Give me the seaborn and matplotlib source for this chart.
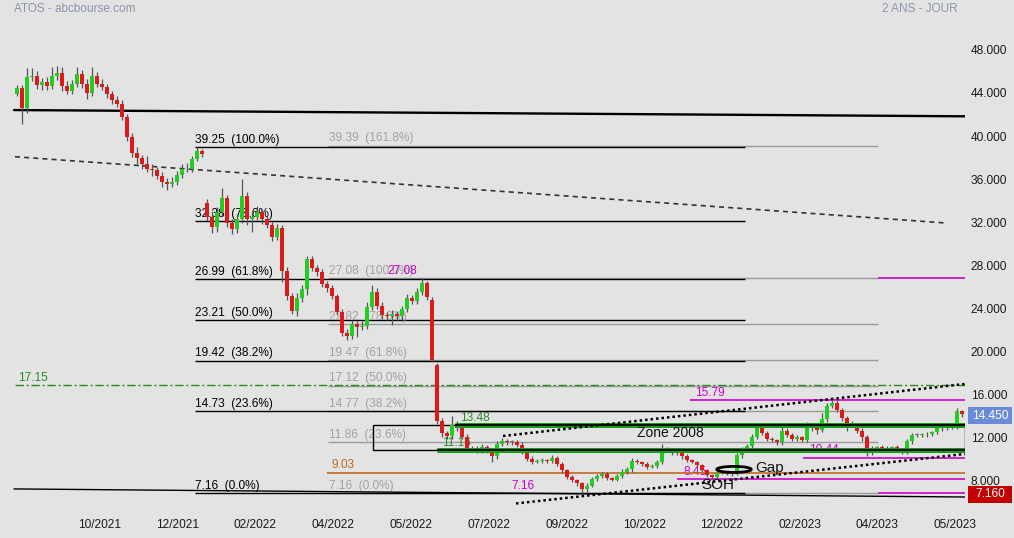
import matplotlib
matplotlib.use("Agg")
import matplotlib.pyplot as plt
import matplotlib.transforms as mtransforms
from matplotlib.patches import Ellipse, Rectangle
import numpy as np
import seaborn as sns

# daily candles sampled from the chart (ATOS, 2 years)
closes = [
    44.75, 42.85, 45.75, 45.85, 45.05, 45.25, 44.95, 45.85, 46.15, 44.95,
    44.45, 45.15, 46.05, 45.15, 44.25, 45.85, 45.15, 44.85, 44.15, 43.65,
    43.25, 42.05, 40.15, 38.75, 38.25, 37.65, 37.25, 37.15, 36.55, 36.05,
    35.85, 36.05, 36.65, 37.25, 37.2, 38.15, 38.9, 38.6, 32.8, 31.85,
    33.25, 34.55, 32.25, 31.65, 32.55, 34.75, 32.55, 32.75, 33.25, 32.55,
    32.05, 30.95, 31.75, 27.75, 25.45, 24.05, 25.25, 26.05, 28.85, 28.05,
    27.65, 26.55, 26.15, 25.45, 23.95, 22.05, 21.75, 22.85, 22.55, 22.65,
    24.45, 25.85, 24.55, 23.65, 23.55, 23.75, 23.55, 24.25, 25.25, 24.95,
    25.85, 26.6, 25.3, 19.5, 13.8, 12.75, 12.45, 13.45, 13.15, 12.35,
    11.25, 11.35, 11.05, 11.45, 11.15, 10.55, 11.75, 11.95, 11.85, 11.85,
    11.65, 10.95, 10.35, 10.05, 10.15, 10.25, 10.15, 10.45, 9.85, 9.25,
    8.65, 8.35, 8.05, 7.5, 7.85, 8.45, 8.75, 8.95, 8.55, 8.35,
    8.75, 9.15, 9.35, 10.15, 10.05, 9.85, 9.55, 9.65, 10.05, 11.15,
    11.15, 10.85, 10.85, 10.55, 10.25, 10.05, 9.75, 9.25, 8.85, 8.65,
    9.0, 9.0, 8.95, 8.95, 10.65, 11.25, 11.55, 12.35, 13.15, 12.75,
    12.15, 12.05, 11.85, 12.95, 12.55, 12.15, 12.35, 12.05, 13.45, 13.15,
    13.05, 14.05, 15.25, 15.55, 14.85, 14.15, 13.65, 13.55, 12.95, 12.35,
    10.85, 11.35, 11.45, 11.15, 11.35, 11.45, 11.25, 10.95, 11.95, 12.55,
    12.55, 12.6, 12.65, 12.85, 13.15, 13.2, 13.35, 13.3, 14.75, 14.45,
]
first_open = 44.2
gap_opens = {38: 34.1, 83: 25.1, 84: 19.0, 144: 9.05}

upper_tail = [
    0.3, 0.3, 0.8, 0.7, 0.5, 0.4, 0.5, 0.8, 0.6, 0.5,
    0.4, 0.3, 0.6, 0.4, 0.4, 0.8, 0.4, 0.4, 0.3, 0.3,
    0.3, 0.4, 0.3, 0.4, 0.5, 0.3, 0.8, 0.4, 0.3, 0.4,
    0.3, 0.4, 0.4, 0.4, 0.5, 0.3, 0.35, 0.2, 0.3, 0.5,
    0.4, 0.9, 0.3, 0.3, 0.5, 1.55, 0.3, 0.4, 0.5, 0.3,
    0.3, 0.3, 0.4, 0.3, 0.4, 0.3, 0.5, 0.4, 0.3, 0.3,
    0.3, 0.3, 0.3, 0.3, 0.2, 0.3, 0.3, 0.4, 0.3, 0.5,
    0.4, 0.6, 0.3, 0.3, 0.3, 0.4, 0.3, 0.3, 0.4, 0.3,
    0.3, 0.48, 0.2, 0.2, 0.2, 0.3, 0.2, 0.9, 0.4, 0.2,
    0.3, 0.2, 0.2, 0.3, 0.2, 0.2, 0.2, 0.3, 0.2, 0.2,
    0.2, 0.2, 0.1, 0.2, 0.2, 0.2, 0.1, 0.2, 0.1, 0.2,
    0.1, 0.2, 0.1, 0.1, 0.2, 0.2, 0.2, 0.2, 0.2, 0.1,
    0.2, 0.2, 0.2, 0.3, 0.2, 0.1, 0.2, 0.2, 0.2, 0.6,
    0.3, 0.2, 0.2, 0.1, 0.2, 0.1, 0.1, 0.1, 0.1, 0.1,
    0.1, 0.2, 0.1, 0.1, 0.2, 0.2, 0.2, 0.3, 0.3, 0.2,
    0.2, 0.2, 0.1, 0.3, 0.2, 0.2, 0.2, 0.1, 0.3, 0.2,
    0.2, 0.5, 0.3, 0.24, 0.2, 0.2, 0.2, 0.2, 0.1, 0.2,
    0.2, 0.2, 0.1, 0.2, 0.2, 0.1, 0.2, 0.1, 0.2, 0.2,
    0.2, 0.1, 0.2, 0.1, 0.2, 0.2, 0.15, 0.2, 0.3, 0.1,
]
lower_tail = [
    0.2, 1.45, 0.4, 0.4, 0.4, 0.5, 0.4, 0.3, 0.4, 0.5,
    0.3, 0.3, 0.3, 0.4, 0.5, 0.3, 0.3, 0.3, 0.3, 0.4,
    0.3, 0.3, 0.3, 0.4, 0.6, 0.4, 0.3, 0.6, 0.3, 0.5,
    0.6, 0.3, 0.3, 0.3, 0.3, 0.3, 0.2, 0.3, 0.4, 0.6,
    0.5, 0.4, 0.4, 0.5, 0.4, 0.3, 0.5, 1.2, 0.3, 0.4,
    0.3, 0.4, 0.3, 1.0, 0.4, 0.3, 0.5, 0.4, 0.5, 0.3,
    0.4, 0.3, 0.3, 0.3, 0.3, 0.3, 0.4, 0.3, 0.9, 0.3,
    0.3, 0.3, 0.3, 0.3, 0.3, 0.8, 0.3, 0.3, 0.3, 0.3,
    0.3, 0.3, 0.2, 0.2, 0.2, 0.4, 0.3, 0.3, 0.2, 0.2,
    0.2, 0.2, 0.2, 0.2, 0.3, 0.5, 0.2, 0.2, 0.2, 0.2,
    0.2, 0.2, 0.2, 0.2, 0.1, 0.2, 0.2, 0.2, 0.2, 0.2,
    0.2, 0.2, 0.2, 0.34, 0.2, 0.1, 0.2, 0.2, 0.2, 0.1,
    0.1, 0.2, 0.2, 0.2, 0.2, 0.2, 0.2, 0.1, 0.2, 0.2,
    0.2, 0.2, 0.2, 0.2, 0.2, 0.1, 0.2, 0.1, 0.2, 0.2,
    0.1, 0.1, 0.1, 0.2, 0.2, 0.2, 0.2, 0.2, 0.2, 0.2,
    0.2, 0.2, 0.2, 0.2, 0.2, 0.2, 0.2, 0.2, 0.2, 0.2,
    0.4, 0.2, 0.3, 0.2, 0.2, 0.3, 0.7, 0.2, 0.2, 0.4,
    0.3, 0.2, 0.2, 0.2, 0.2, 0.2, 0.2, 0.2, 0.2, 0.2,
    0.2, 0.2, 0.2, 0.2, 0.2, 0.2, 0.2, 0.2, 0.2, 0.2,
]

date_labels = ["10/2021", "12/2021", "02/2022", "04/2022", "05/2022", "07/2022",
               "09/2022", "10/2022", "12/2022", "02/2023", "04/2023", "05/2023"]
date_tick_first, date_tick_step = 16.6, 15.55
price_ticks = [8, 12, 16, 20, 24, 28, 32, 36, 40, 44, 48]

fib_a_levels = [39.25, 32.38, 26.99, 23.21, 19.42, 14.73, 7.16]
fib_a_pct = ["100.0%", "78.6%", "61.8%", "50.0%", "38.2%", "23.6%", "0.0%"]
fib_b_levels = [39.39, 27.08, 22.82, 19.47, 17.12, 14.77, 11.86, 7.16]
fib_b_pct = ["161.8%", "100.0%", "78.6%", "61.8%", "50.0%", "38.2%", "23.6%", "0.0%"]

zone_low, zone_high = 11.16, 13.48
green_level = 17.15
orange_level = 9.03
magenta_levels = [27.08, 15.79, 10.44, 8.45, 7.16]
last_price = 14.45
low_price = 7.16

BG = "#e3e3e3"
GREEN = "#22cc22"
RED = "#dd1a1a"
MAGENTA = "#cc00cc"
GRAY_TXT = "#a2a2a2"

sns.set_theme(style="white")
plt.rcParams["font.family"] = ["Liberation Sans", "DejaVu Sans"]

fig = plt.figure(figsize=(10.14, 5.38), dpi=100, facecolor=BG)
ax = fig.add_axes([0, 30 / 538, 965 / 1014, 508 / 538])
ax.set_facecolor(BG)
for s in ax.spines.values():
    s.set_visible(False)
ax.grid(False)
XL, XR = -3.4, 189.6
ax.set_xlim(XL, XR)
ax.set_ylim(5.77, 52.9)

# candles
closes_a = np.array(closes)
opens_a = np.r_[first_open, closes_a[:-1]]
for k, v in gap_opens.items():
    opens_a[k] = v
highs = np.maximum(opens_a, closes_a) + np.array(upper_tail)
lows = np.minimum(opens_a, closes_a) - np.array(lower_tail)
idx = np.arange(len(closes_a))
diff = closes_a - opens_a
doji = np.abs(diff) < 0.03
colors = np.where(doji, "#777777", np.where(diff > 0, GREEN, RED))
ax.vlines(idx, lows, highs, color="#555555", lw=0.9, zorder=3)
ax.bar(idx, np.where(doji, 0.1, diff), bottom=opens_a,
       width=0.8, color=colors, zorder=3.2, linewidth=0)


def label(x, y, s, color, size=8.6):
    ax.annotate(s, (x, y), xytext=(0, 1), textcoords="offset points",
                ha="left", va="bottom", color=color, fontsize=size, zorder=2)


# fibonacci retracement (black) and extension (gray)
for lv, p in zip(fib_a_levels, fib_a_pct):
    ax.hlines(lv, 35.6, 145.6, color="black", lw=1.0, zorder=2)
    label(35.6, lv, f"{lv:.2f}  ({p})", "black")
for lv, p in zip(fib_b_levels, fib_b_pct):
    ax.hlines(lv, 62.2, 172.2, color="#9a9a9a", lw=1.0, zorder=1.8)
    label(62.4, lv, f"{lv:.2f}  ({p})", GRAY_TXT)

# long resistance / support lines
sns.lineplot(x=[-0.6, XR], y=[42.69, 42.11], ax=ax, color="black", lw=1.7, zorder=2.5)
sns.lineplot(x=[-0.6, XR], y=[7.54, 6.79], ax=ax, color="black", lw=1.0, zorder=2.5)
sns.lineplot(x=[-0.4, 185.8], y=[38.36, 32.21], ax=ax, color="#333333", lw=1.2,
             linestyle=(0, (3, 2.5)), zorder=2.5)

# dash-dot green level
ax.hlines(green_level, -0.4, XR, color="#2a8a2a", lw=1.0, linestyles=[(0, (6, 2, 1.5, 2))], zorder=2.2)
label(0.2, green_level, f"{green_level:.2f}", "#2a8a2a")

# orange level
ax.hlines(orange_level, 62.0, XR, color="#c06a20", lw=1.2, zorder=2.2)
label(63.0, orange_level, f"{orange_level:.2f}", "#c06a20")

# magenta levels
mag_starts = [172.2, 134.6, 157.2, 132.0, 172.2]
for lv, x0 in zip(magenta_levels, mag_starts):
    ax.hlines(lv, x0, XR, color=MAGENTA, lw=1.2, zorder=2.2)
label(74.0, 27.08, "27.08", MAGENTA)
label(135.6, 15.79, "15.79", MAGENTA)
label(158.4, 10.44, "10.44", MAGENTA)
label(133.2, 8.45, "8.45", MAGENTA)
label(98.8, 7.16, "7.16", MAGENTA)

# Zone 2008
ax.add_patch(Rectangle((71.2, zone_low), XR - 71.2, zone_high - zone_low,
                       fill=False, ec="black", lw=1.0, zorder=2.3))
ax.hlines(zone_high, 87.6, XR, color="#1a9a1a", lw=3.6, zorder=4)
ax.hlines(zone_high, 87.6, XR, color="black", lw=1.3, zorder=4.1)
ax.hlines(zone_low, 84.0, XR, color="#1a9a1a", lw=3.6, zorder=4)
ax.hlines(zone_low, 84.0, XR, color="black", lw=1.3, zorder=4.1)
label(88.6, zone_high, f"{zone_high:.2f}", "#2a8a2a")
label(85.0, zone_low, f"{zone_low:.2f}", "#2a8a2a")
ax.text(124.0, 12.73, "Zone 2008", fontsize=10, color="#111111", va="center", ha="left", zorder=4.5)

# dotted channel
sns.lineplot(x=[97.2, XR], y=[12.45, 17.28], ax=ax, color="black", lw=1.8,
             linestyle=(0, (1, 1.2)), zorder=4.2)
sns.lineplot(x=[99.8, XR], y=[6.19, 10.78], ax=ax, color="black", lw=1.8,
             linestyle=(0, (1, 1.2)), zorder=4.2)

# gap marker
ax.add_patch(Ellipse((143.4, 9.35), 6.9, 0.56, fill=False, ec="black", lw=2.0, zorder=4.5))
ax.text(147.6, 9.44, "Gap", fontsize=11, color="#111111", va="center", ha="left", zorder=4.5)
ax.text(136.8, 7.91, "SOH", fontsize=11, color="#111111", va="center", ha="left", zorder=4.5)

# axes ticks
ax.set_xticks([date_tick_first + k * date_tick_step for k in range(len(date_labels))], date_labels)
ax.set_yticks(price_ticks, [f"{v:.3f}" for v in price_ticks])
ax.tick_params(axis="x", bottom=False, top=False, length=0, pad=8, labelsize=8.6, labelcolor="#1a1a1a")
ax.tick_params(axis="y", left=False, right=False, length=0, labelleft=False, labelright=True,
               pad=4, labelsize=8.6, labelcolor="#1a1a1a")
shift = mtransforms.ScaledTranslation(0, 3 / 100, fig.dpi_scale_trans)
for t in ax.yaxis.get_major_ticks():
    t.label2.set_transform(t.label2.get_transform() + shift)

# price boxes on the right axis
bt = mtransforms.blended_transform_factory(ax.transAxes, ax.transData)
for val, center, fc in [(last_price, 14.31, "#6b8bd6"), (low_price, 7.03, "#c20000")]:
    ax.add_patch(Rectangle((1.0031, center - 0.79), 0.0456, 1.58, transform=bt,
                           fc=fc, ec="none", clip_on=False, zorder=6))
    ax.text(1.0259, center, f"{val:.3f}", transform=bt, ha="center", va="center",
            color="white", fontsize=8.6, clip_on=False, zorder=7)

fig.text(14 / 1014, 1 - 9 / 538, "ATOS - abcbourse.com", color="#8c96a8", fontsize=8.5, va="center")
fig.text(958 / 1014, 1 - 9 / 538, "2 ANS - JOUR", color="#8c96a8", fontsize=8.5, va="center", ha="right")

fig.savefig("out.png", dpi=100, facecolor=BG)
